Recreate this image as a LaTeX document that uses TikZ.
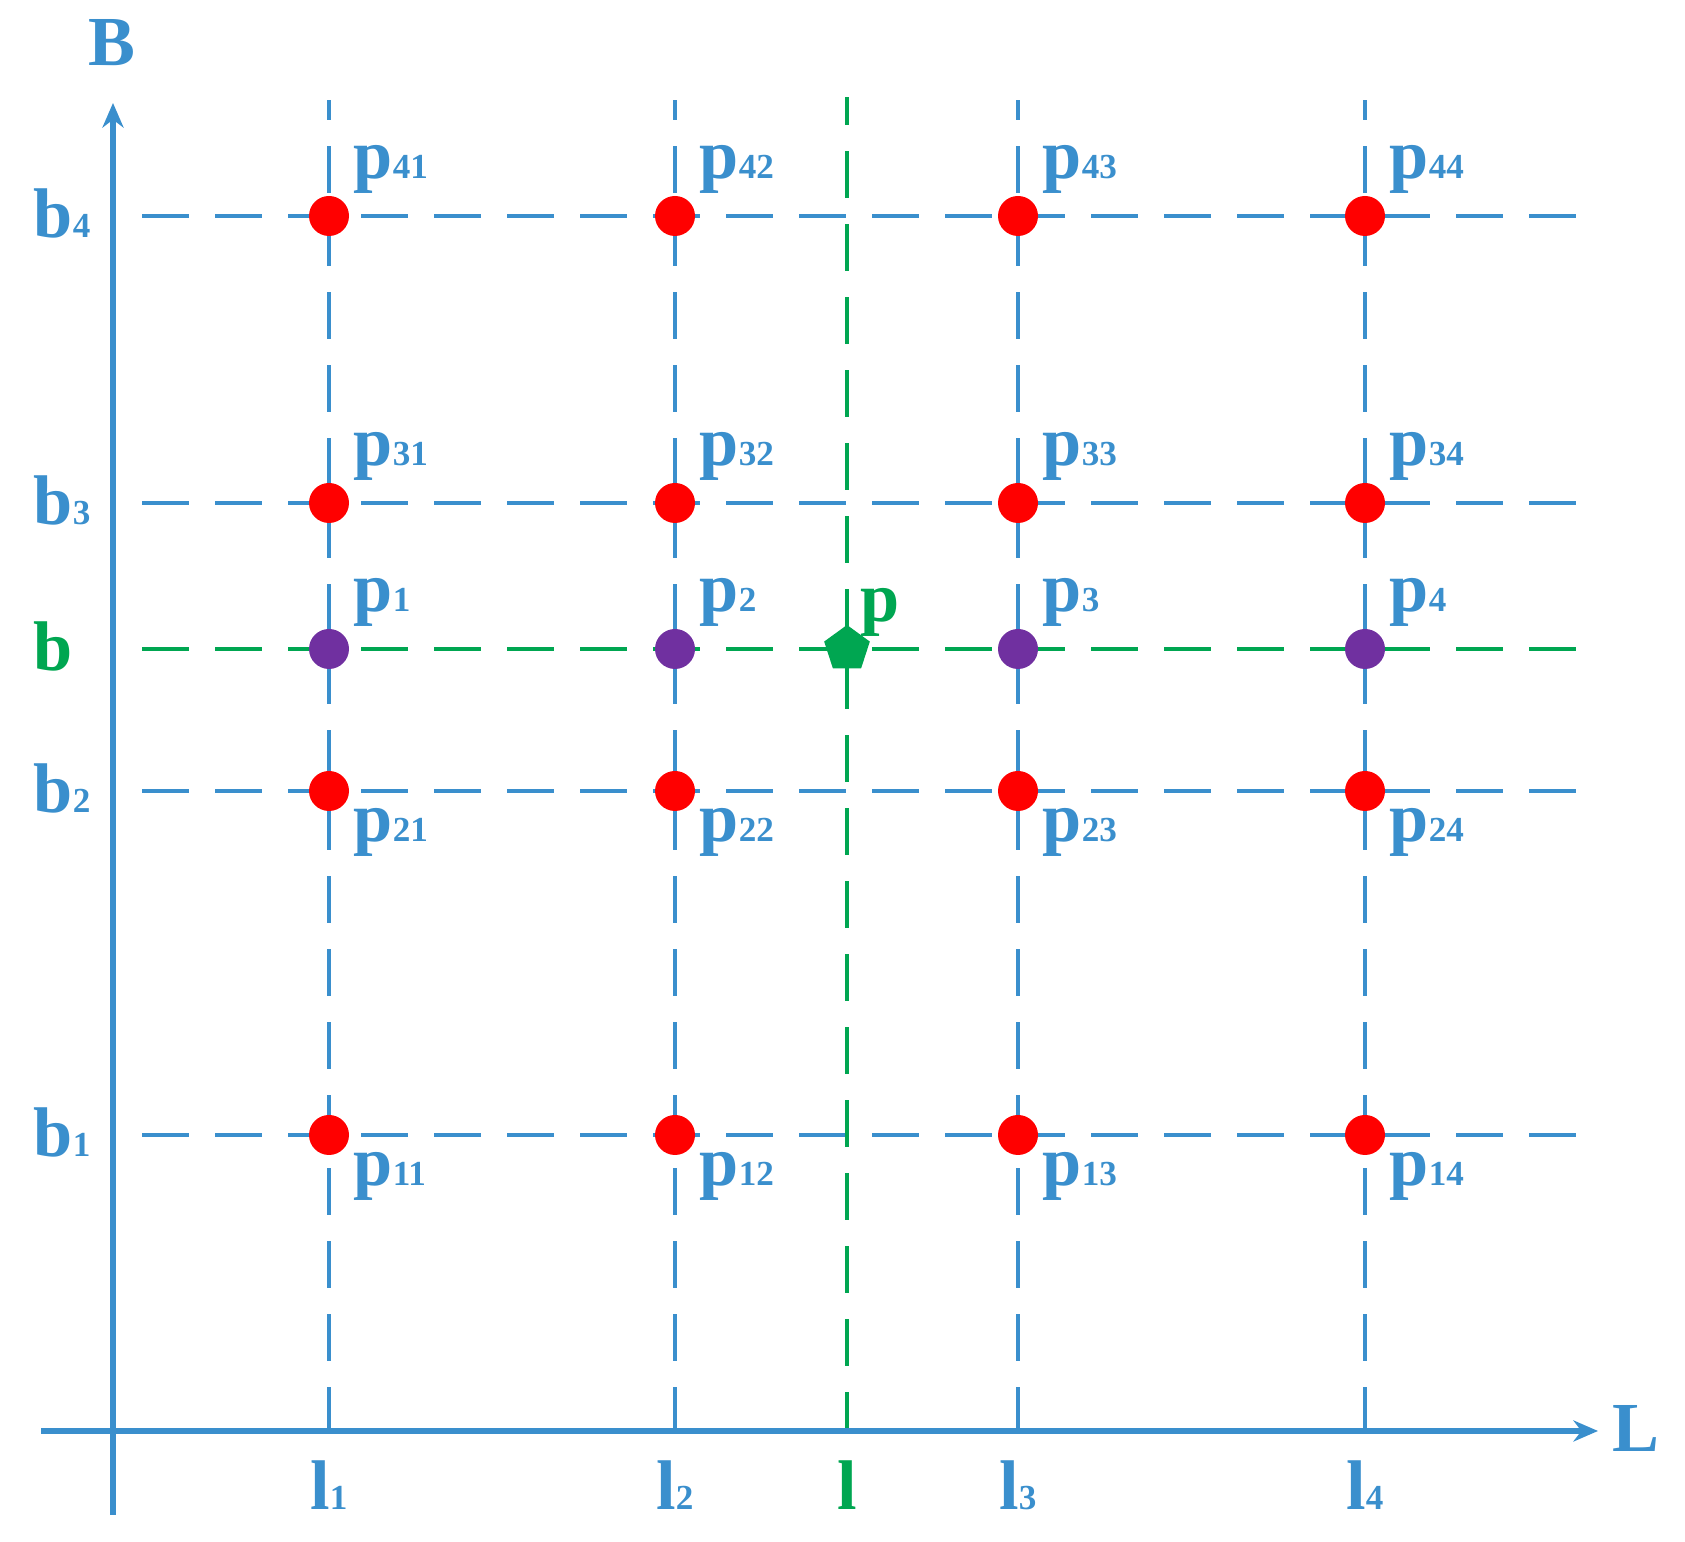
\documentclass[tikz,border=0pt]{standalone}
\usepackage{fontspec}
\setmainfont{Liberation Serif}
\usetikzlibrary{arrows.meta, shapes.geometric}
\definecolor{gridblue}{RGB}{58,143,205}
\definecolor{ptgreen}{RGB}{0,166,81}
\definecolor{ptpurple}{RGB}{112,48,160}
\newcommand{\lab}[2]{#1{\fontsize{10}{12}\selectfont #2}}

\begin{document}
\begin{tikzpicture}[font=\fontsize{20}{24}\selectfont\bfseries,
  gridline/.style={gridblue, line width=1.3pt, dash pattern=on 0.47cm off 0.26cm, dash phase=0.44cm},
  upline/.style={gridline, dash phase=0.03cm},
  axis/.style={gridblue, line width=1.5pt, -{Stealth[length=7pt,width=6pt]}},
  dot/.style={circle, fill=red, minimum size=0.40cm, inner sep=0pt},
  txt/.style={text=gridblue, inner sep=0pt}]
\useasboundingbox (-1.13,-1.11) rectangle (15.72,14.31);
% dashed grid
\foreach \y in {2.96,6.40,9.28,12.15} \draw [gridline] (0,\y) -- (14.72,\y);
\foreach \x in {2.16,5.62,9.05,12.52} \draw [upline] (\x,0) -- (\x,13.31);
\draw [gridline, ptgreen] (0,7.82) -- (14.72,7.82);
\draw [upline, ptgreen, dash phase=0.08cm] (7.34,0) -- (7.34,13.34);
% axes
\draw [axis] (0,-0.84) -- (0,13.28);
\draw [axis] (-0.72,0) -- (14.85,0);
\node [txt] (B) at (-0.01,13.88) {B};
\node [txt, anchor=west] (L) at (14.99,0.03) {L};
\foreach \j/\y in {1/2.96,2/6.40,3/9.28,4/12.15}
  \node [txt, anchor=base west] (b\j) at (-0.80,\y-0.22) {\lab{b}{\j}};
\node [txt, text=ptgreen, anchor=base west] (b) at (-0.80,7.60) {b};
\foreach \i/\x in {1/2.16,2/5.62,3/9.05,4/12.52}
  \node [txt, anchor=base] (l\i) at (\x,-0.79) {\lab{l}{\i}};
\node [txt, text=ptgreen, anchor=base] (l) at (7.34,-0.79) {l};
% grid points
\foreach \j/\y/\dy in {1/2.96/-0.51, 2/6.40/-0.51, 3/9.28/0.37, 4/12.15/0.37}
  \foreach \i/\x in {1/2.16,2/5.62,3/9.05,4/12.52} {
    \node [dot] (p\j\i) at (\x,\y) {};
    \node [txt, anchor=base west] (t\j\i) at (\x+0.24,\y+\dy) {\lab{p}{\j\i}};
  }
\foreach \i/\x in {1/2.16,2/5.62,3/9.05,4/12.52} {
  \node [dot, fill=ptpurple] (p\i) at (\x,7.82) {};
  \node [txt, anchor=base west] (t\i) at (\x+0.24,8.19) {\lab{p}{\i}};
}
\node [regular polygon, regular polygon sides=5, fill=ptgreen, minimum size=0.48cm, inner sep=0pt] (p) at (7.34,7.82) {};
\node [txt, text=ptgreen, anchor=base west] (tp) at (7.47,8.09) {p};
\end{tikzpicture}
\end{document}
